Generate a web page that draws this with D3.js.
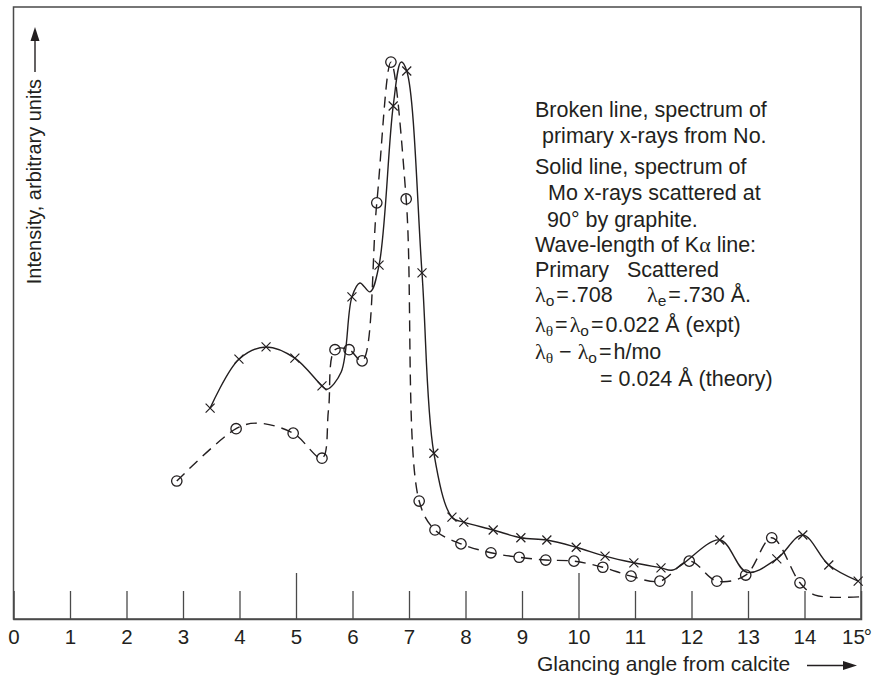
<!DOCTYPE html>
<html>
<head>
<meta charset="utf-8">
<script src="https://cdn.jsdelivr.net/npm/d3@7"></script>
<style>
  body { margin: 0; background: #fff; }
  svg { display: block; }
  .sans { font-family: "Liberation Sans", Arial, Helvetica, sans-serif; fill: #231f20; }
  .greek { font-family: "Liberation Serif", "DejaVu Serif", serif; }
</style>
</head>
<body>
<svg id="chart" width="874" height="679"></svg>
<script>
// Solid line: Mo x-rays scattered at 90° by graphite (crosses mark measured points;
// knots flagged 0 only shape the drawn curve)
const scatteredAngle     = [3.48, 3.99, 4.47, 4.98, 5.46, 5.55, 5.80, 5.99, 6.13, 6.31, 6.47, 6.72, 6.86, 6.96, 7.23, 7.44, 7.76, 7.97, 8.49, 8.98, 9.44, 9.96, 10.47, 10.98, 11.46, 11.67, 12.50, 12.98, 13.51, 13.97, 14.43, 14.95];
const scatteredIntensity = [37.9, 46.7, 48.9, 46.9, 41.9, 41.3, 44.4, 57.9, 60.4, 58.8, 63.6, 92.2, 100.1, 98.5, 62.2, 29.8, 18.3, 17.4, 16.0, 14.6, 14.2, 12.9, 11.3, 10.1, 9.2, 8.8, 14.2, 8.4, 10.8, 15.1, 9.7, 6.8];
const scatteredMarked    = [1, 1, 1, 1, 1, 0, 0, 1, 0, 0, 1, 1, 0, 1, 1, 1, 1, 1, 1, 1, 1, 1, 1, 1, 1, 0, 1, 0, 1, 1, 1, 1];

// Broken line: primary x-rays from Mo (circles mark measured points)
const primaryAngle     = [2.89, 3.94, 4.31, 4.95, 5.46, 5.575, 5.69, 5.94, 6.17, 6.43, 6.68, 6.95, 7.18, 7.46, 7.92, 8.45, 8.95, 9.42, 9.92, 10.43, 10.93, 11.44, 11.96, 12.45, 12.96, 13.42, 13.92, 14.19, 15.0];
const primaryIntensity = [24.8, 34.2, 35.2, 33.4, 28.9, 37.6, 48.4, 48.4, 46.4, 74.8, 100.1, 75.5, 21.2, 16.0, 13.5, 11.9, 11.1, 10.6, 10.4, 9.3, 7.7, 6.8, 10.4, 6.8, 7.9, 14.6, 6.5, 4.3, 4.0];
const primaryMarked    = [1, 1, 0, 1, 1, 0, 1, 1, 1, 1, 1, 1, 1, 1, 1, 1, 1, 1, 1, 1, 1, 1, 1, 1, 1, 1, 1, 0, 0];

// Axis ticks (glancing angle, degrees)
const angleTicks = [0, 1, 2, 3, 4, 5, 6, 7, 8, 9, 10, 11, 12, 13, 14];
const lastTick = 15;
const majorTicks = [5, 10];

const ink = "#231f20";
const svg = d3.select("#chart");

const x = d3.scaleLinear().domain([0, 15]).range([13.5, 861]);
const y = d3.scaleLinear().domain([0, 110]).range([619, 7]);

// Frame
svg.append("rect")
  .attr("x", x(0)).attr("y", y(110))
  .attr("width", x(15) - x(0)).attr("height", y(0) - y(110))
  .attr("fill", "none").attr("stroke", "#4a4a4a").attr("stroke-width", 1.5);

// Bottom axis with ticks pointing inward
const axis = d3.axisBottom(x).tickValues(angleTicks).tickSize(-28).tickFormat(d => d);
const gAxis = svg.append("g").attr("transform", `translate(0,${y(0)})`).call(axis);
gAxis.select(".domain").attr("stroke", "#4a4a4a").attr("stroke-width", 1.5);
gAxis.selectAll(".tick line")
  .attr("stroke", "#4a4a4a").attr("stroke-width", 1.3)
  .attr("y2", d => majorTicks.includes(d) ? -46 : -28)
  .attr("display", d => d === 0 ? "none" : null);
gAxis.selectAll(".tick text")
  .attr("class", "sans")
  .attr("dy", null).attr("y", 25)
  .attr("font-size", 20.5)
  .attr("fill", ink);
gAxis.attr("font-family", null).attr("font-size", null);

// Last label sits against the frame edge, nudged inward
const last = svg.append("text").attr("class", "sans")
  .attr("x", x(lastTick) - 19).attr("y", y(0) + 25)
  .attr("font-size", 20.5);
last.append("tspan").text(lastTick);
last.append("tspan").attr("dx", -1).text("°");

// Axis titles with arrows
svg.append("text").attr("class", "sans")
  .attr("x", 537).attr("y", 671).attr("font-size", 21)
  .text("Glancing angle from calcite");
svg.append("line").attr("x1", 807).attr("x2", 846).attr("y1", 665.5).attr("y2", 665.5)
  .attr("stroke", ink).attr("stroke-width", 1.4);
svg.append("path").attr("d", "M857,665.5L843,661L843,670Z").attr("fill", ink);

svg.append("text").attr("class", "sans")
  .attr("transform", "translate(41,79) rotate(-90)")
  .attr("text-anchor", "end").attr("font-size", 20)
  .text("Intensity, arbitrary units");
svg.append("line").attr("x1", 35).attr("x2", 35).attr("y1", 72).attr("y2", 38)
  .attr("stroke", ink).attr("stroke-width", 1.4);
svg.append("path").attr("d", "M35,27L30.5,41L39.5,41Z").attr("fill", ink);

// Curves
const toPoints = (ax, iy, m) => ax.map((a, i) => ({ a, v: iy[i], m: m[i] }));
const scattered = toPoints(scatteredAngle, scatteredIntensity, scatteredMarked);
const primary = toPoints(primaryAngle, primaryIntensity, primaryMarked);

const line = d3.line()
  .x(d => x(d.a)).y(d => y(d.v))
  .curve(d3.curveCatmullRom.alpha(0.5));

svg.append("path").datum(primary)
  .attr("d", line).attr("fill", "none")
  .attr("stroke", ink).attr("stroke-width", 1.4)
  .attr("stroke-dasharray", "11,7");

svg.append("path").datum(scattered)
  .attr("d", line).attr("fill", "none")
  .attr("stroke", ink).attr("stroke-width", 1.4);

// Markers
svg.append("g").selectAll("circle")
  .data(primary.filter(d => d.m))
  .join("circle")
  .attr("cx", d => x(d.a)).attr("cy", d => y(d.v)).attr("r", 5.2)
  .attr("fill", "none").attr("stroke", ink).attr("stroke-width", 1.3);

svg.append("g").selectAll("path")
  .data(scattered.filter(d => d.m))
  .join("path")
  .attr("transform", d => `translate(${x(d.a)},${y(d.v)})`)
  .attr("d", "M-4.5,-4.5L4.5,4.5M-4.5,4.5L4.5,-4.5")
  .attr("fill", "none").attr("stroke", ink).attr("stroke-width", 1.2);

// Annotation block
const note = svg.append("g").attr("class", "sans").attr("font-size", 21.5);
const plainLines = [
  [535, 117, "Broken line, spectrum of"],
  [542, 143, "primary x-rays from No."],
  [535, 174, "Solid line, spectrum of"],
  [548, 200, "Mo x-rays scattered at"],
  [547, 227, "90° by graphite."]
];
plainLines.forEach(([tx, ty, s]) => note.append("text").attr("x", tx).attr("y", ty).text(s));

const wave = note.append("text").attr("x", 535).attr("y", 252);
wave.append("tspan").text("Wave-length of K");
wave.append("tspan").attr("class", "greek").attr("font-size", 22).text("α");
wave.append("tspan").text(" line:");

note.append("text").attr("x", 535).attr("y", 277).text("Primary");
note.append("text").attr("x", 627).attr("y", 277).text("Scattered");

// Builds a text run from [string, kind, dx] parts;
// kind: "g" greek, "s" subscript, "gs" greek subscript, "" plain
function rich(tx, ty, parts) {
  const t = note.append("text").attr("x", tx).attr("y", ty);
  let shifted = false;
  parts.forEach(([s, kind, dx]) => {
    const sp = t.append("tspan").text(s);
    const sub = kind === "s" || kind === "gs";
    if (kind === "g") sp.attr("class", "greek").attr("font-size", 22);
    if (kind === "s") sp.attr("font-size", 15.5);
    if (kind === "gs") sp.attr("class", "greek").attr("font-size", 15.5);
    if (sub && !shifted) { sp.attr("dy", 4); shifted = true; }
    if (!sub && shifted) { sp.attr("dy", -4); shifted = false; }
    if (dx) sp.attr("dx", dx);
  });
  return t;
}

rich(535, 302, [["λ", "g"], ["o", "s"], ["=", "", 2], [".708", "", 2]]);
rich(647, 302, [["λ", "g"], ["e", "s"], ["=", "", 2], [".730 Å.", "", 2]]);
rich(535, 332, [["λ", "g"], ["θ", "gs"], ["=", "", 2], ["λ", "g", 2], ["o", "s"], ["=", "", 2], ["0.022 Å (expt)", "", 2]]);
rich(535, 359, [["λ", "g"], ["θ", "gs"], [" − ", ""], ["λ", "g"], ["o", "s"], ["=", "", 2], ["h/mo", "", 2]]);
note.append("text").attr("x", 600).attr("y", 386).text("= 0.024 Å (theory)");
</script>
</body>
</html>
